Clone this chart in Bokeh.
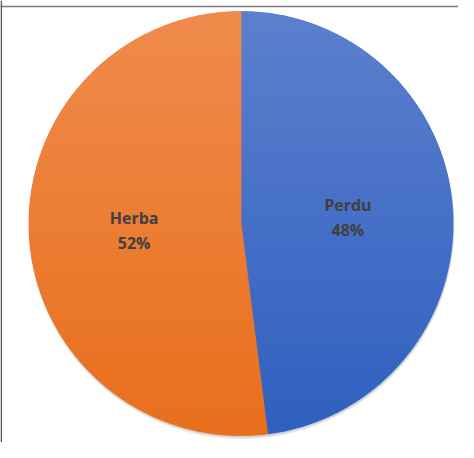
import math
from bokeh.plotting import figure
from bokeh.models import Range1d, Span, ColumnDataSource
from bokeh.core.properties import value
from bokeh.embed import file_html
from bokeh.resources import INLINE

categories = ["Perdu", "Herba"]
values = [48, 52]
colors = ["#4472C4", "#ED7D31"]
colors_top = ["#5C80CE", "#F08B4D"]
colors_bottom = ["#2F60BF", "#E86F1C"]

W, H = 458, 442
cx, cy, r = 240.5, 219.0, 212.0

total = float(sum(values))
starts, ends, lx, ly, pct = [], [], [], [], []
acc = 0.0
for v in values:
    a0 = math.pi / 2 - 2 * math.pi * acc / total
    acc += v
    a1 = math.pi / 2 - 2 * math.pi * acc / total
    starts.append(a0)
    ends.append(a1)
    mid = (a0 + a1) / 2
    lx.append(cx + 0.505 * r * math.cos(mid))
    ly.append(cy + 0.505 * r * math.sin(mid))
    pct.append(f"{round(100 * v / total)}%")

src = ColumnDataSource(dict(cat=categories, val=values, color=colors,
                            start=starts, end=ends, lx=lx, ly=ly, pct=pct))


def hex2rgb(h):
    h = h.lstrip("#")
    return [int(h[i:i + 2], 16) for i in (0, 2, 4)]


def mix(c1, c2, t):
    a, b = hex2rgb(c1), hex2rgb(c2)
    return "#%02x%02x%02x" % tuple(int(round(a[i] + (b[i] - a[i]) * t)) for i in range(3))


def clip(poly, c, above):
    out = []
    n = len(poly)
    for i in range(n):
        P, Q = poly[i], poly[(i + 1) % n]
        inP = P[1] >= c if above else P[1] <= c
        inQ = Q[1] >= c if above else Q[1] <= c
        if inP:
            out.append(P)
        if inP != inQ:
            t = (c - P[1]) / (Q[1] - P[1])
            out.append((P[0] + t * (Q[0] - P[0]), c))
    return out


# gradient bands inside each wedge
bx, by, bc = [], [], []
nb = 90
for k in range(len(values)):
    a0, a1 = starts[k], ends[k]
    m = max(8, int(abs(a0 - a1) / (2 * math.pi) * 360))
    poly = [(cx, cy)] + [(cx + r * math.cos(a0 + (a1 - a0) * j / m),
                          cy + r * math.sin(a0 + (a1 - a0) * j / m)) for j in range(m + 1)]
    for b in range(nb):
        yhi = cy + r - 2 * r * b / nb
        ylo = cy + r - 2 * r * (b + 1) / nb
        seg = clip(clip(poly, ylo, True), yhi, False)
        if len(seg) < 3:
            continue
        bx.append([q[0] for q in seg])
        by.append([q[1] for q in seg])
        bc.append(mix(colors_top[k], colors_bottom[k], (b + 0.5) / nb))

p = figure(width=W, height=H, output_backend="svg", toolbar_location=None,
           x_range=Range1d(0, W), y_range=Range1d(0, H), min_border=0)
p.axis.visible = False
p.grid.visible = False
p.outline_line_color = None
p.background_fill_color = "white"

# soft shadow
p.circle(x=cx + 0.5, y=cy - 2.5, radius=r + 1.0, fill_color="#999999",
         fill_alpha=0.22, line_color=None)
p.circle(x=cx + 0.5, y=cy - 1.5, radius=r + 0.5, fill_color="#888888",
         fill_alpha=0.25, line_color=None)

p.wedge(x=cx, y=cy, radius=r, start_angle="start", end_angle="end",
        direction="clock", fill_color="color", line_color=None, source=src)

p.patches(xs=bx, ys=by, fill_color=bc, line_color=bc, line_width=0.8)

p.text(x="lx", y="ly", text="cat", y_offset=-12, text_align="center",
       text_baseline="middle", text_font=value("Open Sans"),
       text_font_style="bold", text_font_size="16px", text_color="#404040",
       source=src)
p.text(x="lx", y="ly", text="pct", y_offset=13, text_align="center",
       text_baseline="middle", text_font=value("Open Sans"),
       text_font_style="bold", text_font_size="16px", text_color="#404040",
       source=src)

# chart frame (top and left visible)
p.add_layout(Span(location=436, dimension="width", line_color="#7a7a7a",
                  line_width=1.5))
p.add_layout(Span(location=0.75, dimension="height", line_color="#555555",
                  line_width=1.5))

open("out.html", "w").write(file_html(p, INLINE))
